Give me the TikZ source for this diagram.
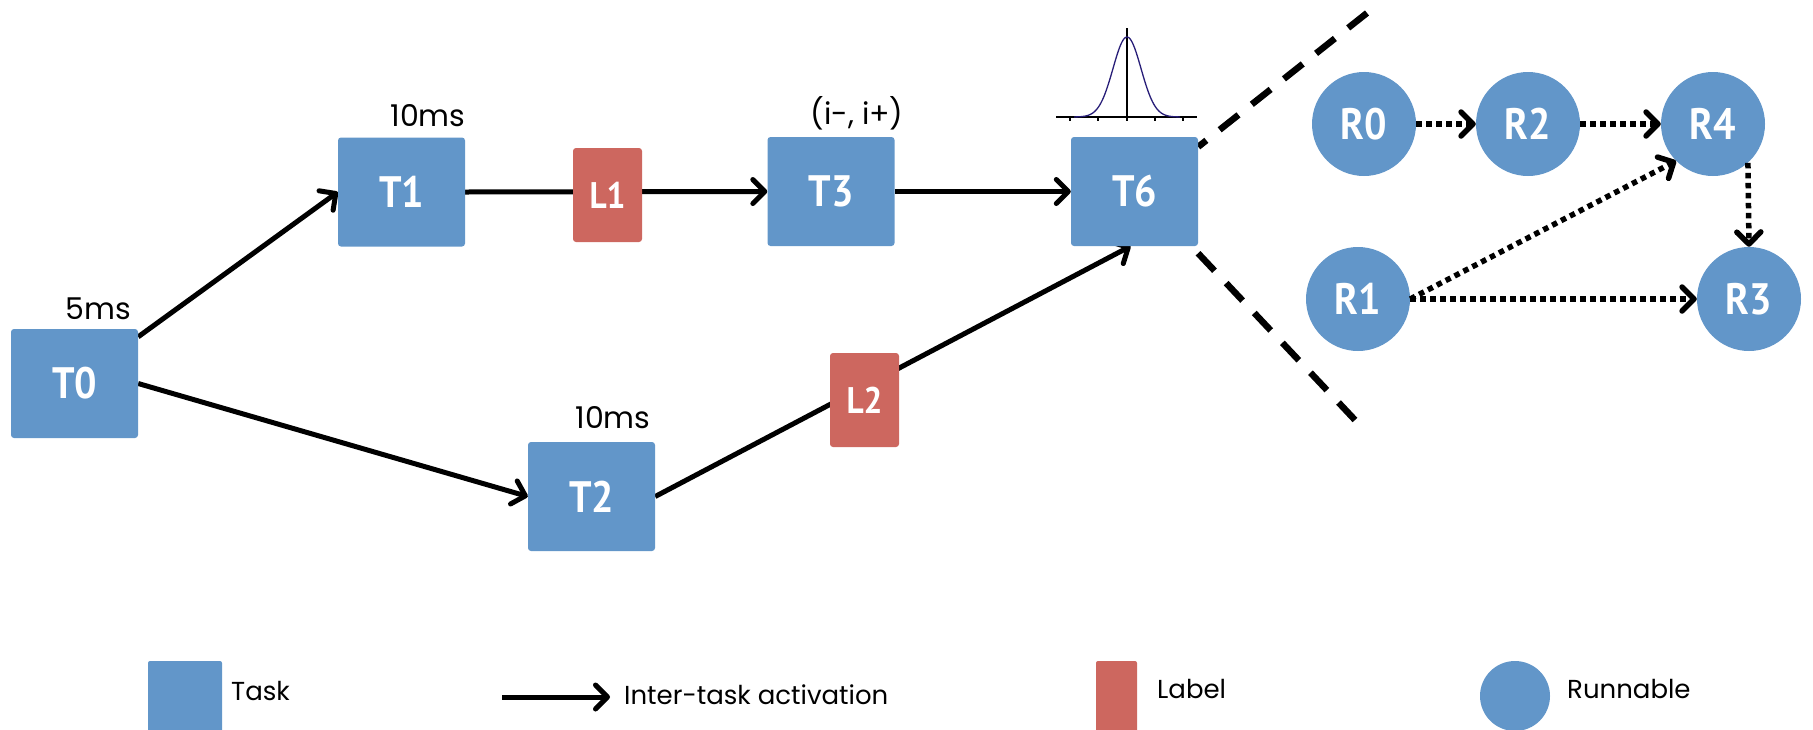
\documentclass[tikz,border=0pt]{standalone}
\usepackage{fontspec}
\setmainfont{Poppins}
\newfontfamily\nodefont{PT Sans}[FakeStretch=0.9]
\usetikzlibrary{arrows.meta,backgrounds}
\definecolor{taskblue}{RGB}{98,150,201}
\definecolor{labelred}{RGB}{205,103,95}
\definecolor{gaussc}{RGB}{40,30,120}
\begin{document}
\begin{tikzpicture}[x=1pt,y=-1pt,
  task/.style={fill=taskblue, rounded corners=3pt, minimum width=127pt, minimum height=109pt, inner sep=0pt, text=white, font=\nodefont\bfseries\fontsize{44}{44}\selectfont},
  lbl/.style={fill=labelred, rounded corners=3pt, minimum width=69pt, minimum height=94pt, inner sep=0pt, text=white, font=\nodefont\bfseries\fontsize{37}{37}\selectfont},
  run/.style={circle, fill=taskblue, minimum size=104pt, inner sep=0pt, text=white, font=\nodefont\bfseries\fontsize{44}{44}\selectfont},
  ann/.style={font=\fontsize{30}{30}\selectfont, inner sep=0pt},
  legtext/.style={font=\fontsize{26}{26}\selectfont, inner sep=0pt, anchor=west},
  act/.style={line width=5pt, -{Straight Barb[length=12pt,width=24pt,round]}},
  dotarr/.style={line width=5.5pt, dash pattern=on 5.5pt off 4.5pt, -{Straight Barb[length=12pt,width=24pt,round]}},
  sep/.style={line width=6.5pt, dash pattern=on 24pt off 17pt}]
\useasboundingbox (0,0) rectangle (1813,729);

% tasks and labels
\node[task] (T0) at (74.5,383.5) {T0};
\node[task] (T1) at (401.5,192) {T1};
\node[task] (T3) at (831,191.5) {T3};
\node[task] (T2) at (591.5,496.5) {T2};
\node[task] (T6) at (1134.5,191.5) {T6};
\node[lbl] (L1) at (607.5,195) {L1};
\node[lbl] (L2) at (864.5,400) {L2};

% annotations
\node[ann] (a0) at (98,309) {5ms};
\node[ann] (a1) at (428,116) {10ms};
\node[ann] (a3) at (857,113) {(i-, i+)};
\node[ann] (a2) at (613,418) {10ms};

% runnables
\node[run] (R0) at (1364,124) {R0};
\node[run] (R2) at (1528,124) {R2};
\node[run] (R4) at (1713,124) {R4};
\node[run] (R1) at (1358,299) {R1};
\node[run] (R3) at (1749,299) {R3};

\coordinate (d1) at (1367,13);
\coordinate (d2) at (1355,420);

\begin{pgfonlayer}{background}
\draw[act] ([yshift=-8pt]T0.north east) -- (T1.west);
\draw[act] (T0.east) -- (T2.west);
\draw[act] (T1.east) -- (T3.west);
\draw[act] (T3.east) -- (T6.west);
\draw[act] (T2.east) -- ([xshift=-4pt]T6.south);
\draw[sep] (d1) -- ([yshift=-10pt]T6.north east);
\draw[sep] (d2) -- ([yshift=-4pt,xshift=-3pt]T6.south east);
\end{pgfonlayer}

\draw[dotarr] (R0) -- (R2);
\draw[dotarr] (R2) -- (R4);
\draw[dotarr] (R4.-48) -- (R3.north);
\draw[dotarr] (R1.east) -- (R4.225);
\draw[dotarr] (R1.east) -- (R3.west);

% gaussian
\draw[line width=1.3pt] (1056,117) -- (1197,117);
\foreach \t in {1070,1098,1155,1183} \draw[line width=1.3pt] (\t,117) -- (\t,121);
\draw[line width=1.3pt] (1127,28) -- (1127,121);
\draw[gaussc, line width=1.3pt] plot[domain=-53:53, samples=90, smooth] ({1127+\x},{117-80*exp(-0.5*(\x/14)*(\x/14))});

% legend
\node[fill=taskblue, rounded corners=2pt, minimum width=74pt, minimum height=80pt, inner sep=0pt] (legT) at (185,701) {};
\node[legtext] (legTt) at (231,691) {Task};
\coordinate (la1) at (502,697);
\coordinate (la2) at (610,697);
\draw[act] (la1) -- (la2);
\node[legtext] (legAt) at (624,695) {Inter-task activation};
\node[fill=labelred, rounded corners=2pt, minimum width=41pt, minimum height=80pt, inner sep=0pt] (legL) at (1116.5,701) {};
\node[legtext] (legLt) at (1157,689) {Label};
\node[circle, fill=taskblue, minimum size=70pt, inner sep=0pt] (legR) at (1515,696) {};
\node[legtext] (legRt) at (1567,689) {Runnable};
\end{tikzpicture}
\end{document}
